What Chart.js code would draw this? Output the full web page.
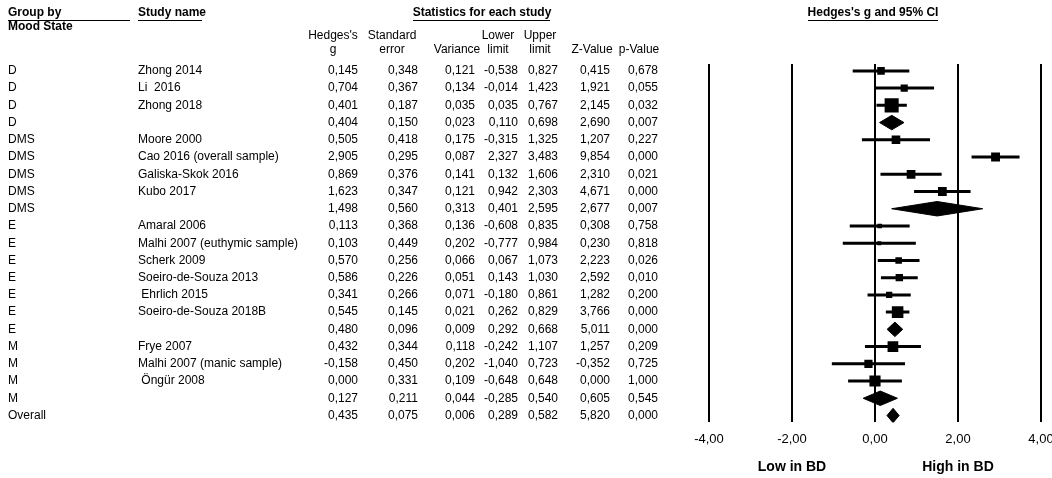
<!DOCTYPE html>
<html>
<head>
<meta charset="utf-8">
<script src="https://cdn.jsdelivr.net/npm/chart.js@4"></script>
<style>
  body { margin: 0; background: #fff; }
  canvas { display: block; }
</style>
</head>
<body>
<canvas id="forest" width="1052" height="478"></canvas>
<script>
// rows of the forest plot, top to bottom
const moodState = ['D', 'D', 'D', 'D', 'DMS', 'DMS', 'DMS', 'DMS', 'DMS',
  'E', 'E', 'E', 'E', 'E', 'E', 'E', 'M', 'M', 'M', 'M', 'Overall'];
const studyName = ['Zhong 2014', 'Li  2016', 'Zhong 2018', '',
  'Moore 2000', 'Cao 2016 (overall sample)', 'Galiska-Skok 2016', 'Kubo 2017', '',
  'Amaral 2006', 'Malhi 2007 (euthymic sample)', 'Scherk 2009', 'Soeiro-de-Souza 2013',
  ' Ehrlich 2015', 'Soeiro-de-Souza 2018B', '',
  'Frye 2007', 'Malhi 2007 (manic sample)', ' Öngür 2008', '', ''];
const hedgesG = [0.145, 0.704, 0.401, 0.404, 0.505, 2.905, 0.869, 1.623, 1.498,
  0.113, 0.103, 0.570, 0.586, 0.341, 0.545, 0.480, 0.432, -0.158, 0.000, 0.127, 0.435];
const stdError = [0.348, 0.367, 0.187, 0.150, 0.418, 0.295, 0.376, 0.347, 0.560,
  0.368, 0.449, 0.256, 0.226, 0.266, 0.145, 0.096, 0.344, 0.450, 0.331, 0.211, 0.075];
const variance = [0.121, 0.134, 0.035, 0.023, 0.175, 0.087, 0.141, 0.121, 0.313,
  0.136, 0.202, 0.066, 0.051, 0.071, 0.021, 0.009, 0.118, 0.202, 0.109, 0.044, 0.006];
const lowerLimit = [-0.538, -0.014, 0.035, 0.110, -0.315, 2.327, 0.132, 0.942, 0.401,
  -0.608, -0.777, 0.067, 0.143, -0.180, 0.262, 0.292, -0.242, -1.040, -0.648, -0.285, 0.289];
const upperLimit = [0.827, 1.423, 0.767, 0.698, 1.325, 3.483, 1.606, 2.303, 2.595,
  0.835, 0.984, 1.073, 1.030, 0.861, 0.829, 0.668, 1.107, 0.723, 0.648, 0.540, 0.582];
const zValue = [0.415, 1.921, 2.145, 2.690, 1.207, 9.854, 2.310, 4.671, 2.677,
  0.308, 0.230, 2.223, 2.592, 1.282, 3.766, 5.011, 1.257, -0.352, 0.000, 0.605, 5.820];
const pValue = [0.678, 0.055, 0.032, 0.007, 0.227, 0.000, 0.021, 0.000, 0.007,
  0.758, 0.818, 0.026, 0.010, 0.200, 0.000, 0.000, 0.209, 0.725, 1.000, 0.545, 0.000];
const axisTicks = [-4, -2, 0, 2, 4];

const fmt = (v, d) => v.toFixed(d).replace('.', ',');
const isSummary = (i) => studyName[i] === '';

// square size from relative (random effects) weight inside the subgroup
function markerSides() {
  const sides = new Array(hedgesG.length).fill(0);
  let start = 0;
  for (let i = 0; i < hedgesG.length; i++) {
    if (!isSummary(i)) continue;
    const idx = [];
    for (let j = start; j < i; j++) idx.push(j);
    start = i + 1;
    if (!idx.length) continue;
    const v = idx.map(j => stdError[j] * stdError[j]);
    const target = 1 / (stdError[i] * stdError[i]);
    const sumW = t => v.reduce((s, x) => s + 1 / (x + t), 0);
    let tau = 0;
    if (sumW(0) > target) {
      let lo = 0, hi = 10;
      for (let k = 0; k < 60; k++) {
        const mid = (lo + hi) / 2;
        if (sumW(mid) > target) lo = mid; else hi = mid;
      }
      tau = lo;
    }
    const tot = sumW(tau);
    idx.forEach((j, n) => {
      const pct = 100 * (1 / (v[n] + tau)) / tot;
      sides[j] = Math.max(4, 1.75 * Math.sqrt(pct));
    });
  }
  return sides;
}
const sides = markerSides();

const ciPoints = [];
const squarePoints = [];
const squareRadius = [];
const diamondSets = [];
const halfH = 0.42; // diamond half height in row units

hedgesG.forEach((g, i) => {
  if (isSummary(i)) {
    diamondSets.push({
      type: 'line',
      data: [
        { x: lowerLimit[i], y: i },
        { x: g, y: i - halfH },
        { x: upperLimit[i], y: i },
        { x: g, y: i + halfH },
        { x: lowerLimit[i], y: i }
      ],
      borderColor: '#000',
      backgroundColor: '#000',
      borderWidth: 1,
      pointRadius: 0,
      fill: 'shape',
      tension: 0
    });
  } else {
    ciPoints.push({ x: lowerLimit[i], y: i }, { x: upperLimit[i], y: i }, { x: null, y: i });
    squarePoints.push({ x: g, y: i });
    squareRadius.push(sides[i] / Math.SQRT2);
  }
});

const tablePlugin = {
  id: 'tableText',
  afterDraw(chart) {
    const ctx = chart.ctx;
    const y = chart.scales.y;
    const x = chart.scales.x;
    ctx.save();
    ctx.fillStyle = '#000';
    ctx.strokeStyle = '#000';
    ctx.textBaseline = 'middle';

    const bold = 'bold 12px "Liberation Sans", Arial, sans-serif';
    const plain = '12px "Liberation Sans", Arial, sans-serif';

    const underline = (x1, x2, yy) => {
      ctx.lineWidth = 1;
      ctx.beginPath();
      ctx.moveTo(x1, yy + 0.5);
      ctx.lineTo(x2, yy + 0.5);
      ctx.stroke();
    };

    ctx.font = bold;
    ctx.textAlign = 'left';
    ctx.fillText('Group by', 8, 13);
    underline(8, 130, 20);
    ctx.fillText('Mood State', 8, 27);
    ctx.fillText('Study name', 138, 13);
    underline(138, 202, 20);
    ctx.textAlign = 'center';
    ctx.fillText('Statistics for each study', 482, 13);
    underline(413, 550, 20);
    ctx.fillText("Hedges's g and 95% CI", 873, 13);
    underline(808, 938, 20);

    ctx.font = plain;
    const cols = [
      { h: ["Hedges's", 'g'], c: 333, r: 358, v: hedgesG },
      { h: ['Standard', 'error'], c: 392, r: 418, v: stdError },
      { h: ['', 'Variance'], c: 457, r: 475, v: variance },
      { h: ['Lower', 'limit'], c: 498, r: 518, v: lowerLimit },
      { h: ['Upper', 'limit'], c: 540, r: 558, v: upperLimit },
      { h: ['', 'Z-Value'], c: 592, r: 610, v: zValue },
      { h: ['', 'p-Value'], c: 639, r: 658, v: pValue }
    ];
    cols.forEach(col => {
      ctx.textAlign = 'center';
      ctx.fillText(col.h[0], col.c, 36);
      ctx.fillText(col.h[1], col.c, 50);
      ctx.textAlign = 'right';
      col.v.forEach((val, i) => ctx.fillText(fmt(val, 3), col.r, y.getPixelForValue(i)));
    });

    ctx.textAlign = 'left';
    moodState.forEach((m, i) => {
      const py = y.getPixelForValue(i);
      ctx.fillText(m, 8, py);
      ctx.fillText(studyName[i], 138, py);
    });

    ctx.font = 'bold 14px "Liberation Sans", Arial, sans-serif';
    ctx.textAlign = 'center';
    ctx.fillText('Low in BD', x.getPixelForValue(-2), 467);
    ctx.fillText('High in BD', x.getPixelForValue(2), 467);
    ctx.restore();
  }
};

new Chart(document.getElementById('forest'), {
  type: 'scatter',
  data: {
    datasets: [
      {
        type: 'line',
        data: ciPoints,
        borderColor: '#000',
        borderWidth: 3,
        pointRadius: 0,
        spanGaps: false,
        fill: false
      },
      {
        type: 'scatter',
        data: squarePoints,
        pointStyle: 'rect',
        pointRadius: squareRadius,
        backgroundColor: '#000',
        borderColor: '#000',
        borderWidth: 0
      },
      ...diamondSets
    ]
  },
  options: {
    responsive: false,
    animation: false,
    layout: { padding: { left: 709, right: 11, top: 64, bottom: 22 } },
    plugins: {
      legend: { display: false },
      tooltip: { enabled: false }
    },
    scales: {
      x: {
        type: 'linear',
        min: -4,
        max: 4,
        afterBuildTicks: (s) => { s.ticks = axisTicks.map(v => ({ value: v })); },
        afterFit: (s) => { s.paddingLeft = 0; s.paddingRight = 0; },
        grid: { color: '#000', lineWidth: 2, drawTicks: false },
        border: { display: false },
        ticks: {
          color: '#000',
          padding: 9,
          maxRotation: 0,
          autoSkip: false,
          font: { family: '"Liberation Sans", Arial, sans-serif', size: 13 },
          callback: (v) => fmt(v, 2)
        }
      },
      y: {
        type: 'linear',
        reverse: true,
        min: -0.4,
        max: 20.4,
        display: false
      }
    }
  },
  plugins: [tablePlugin]
});
</script>
</body>
</html>
